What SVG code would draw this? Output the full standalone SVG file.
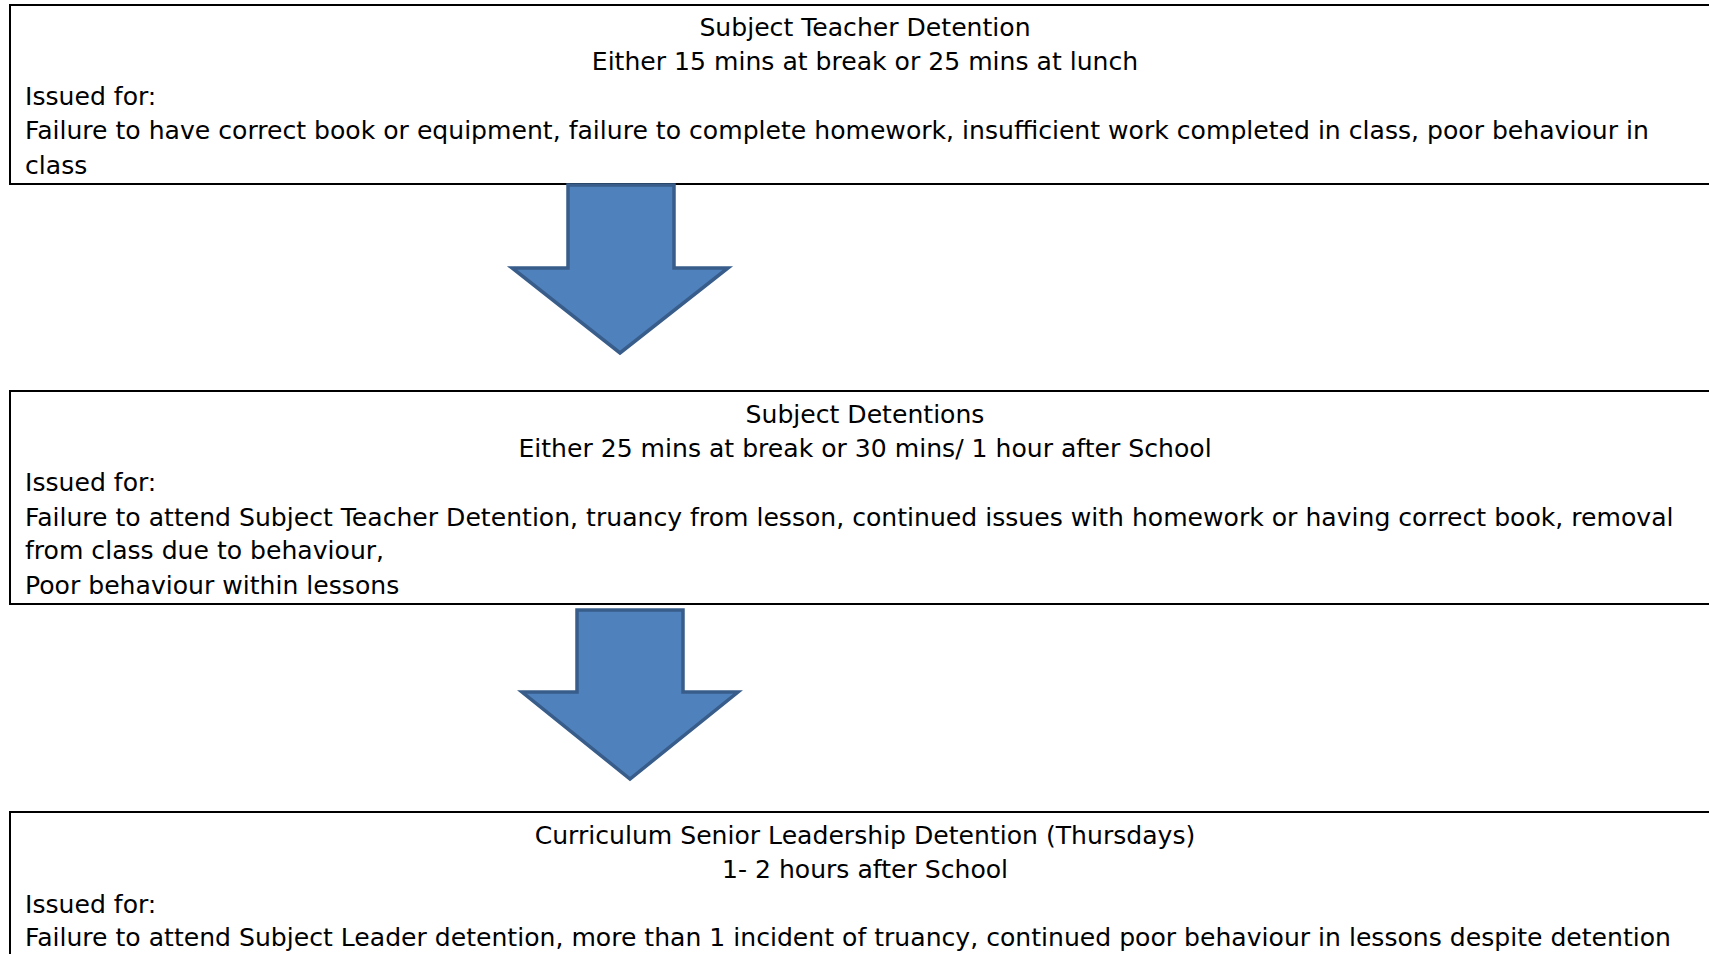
<svg xmlns="http://www.w3.org/2000/svg" width="1709" height="954" viewBox="0 0 1709 954">
<style>
.box{fill:#ffffff;stroke:#000000;stroke-width:2}
.t{font-family:"DejaVu Sans",sans-serif;font-size:25.1px;fill:#000000}
.c{text-anchor:middle}
.arrow{fill:#4F81BD;stroke:#385D8A;stroke-width:3.5;stroke-linejoin:miter}
</style>
<rect x="0" y="0" width="1709" height="954" fill="#ffffff"/>
<g id="node1">
<rect class="box" x="10" y="5" width="1720" height="179"/>
<text class="t c" x="865" y="36">Subject Teacher Detention</text>
<text class="t c" x="865" y="70">Either 15 mins at break or 25 mins at lunch</text>
<text class="t" x="25" y="105">Issued for:</text>
<text class="t" x="25" y="139">Failure to have correct book or equipment, failure to complete homework, insufficient work completed in class, poor behaviour in</text>
<text class="t" x="25" y="174">class</text>
</g>
<g id="node2">
<rect class="box" x="10" y="391" width="1720" height="213"/>
<text class="t c" x="865" y="423">Subject Detentions</text>
<text class="t c" x="865" y="457">Either 25 mins at break or 30 mins/ 1 hour after School</text>
<text class="t" x="25" y="491">Issued for:</text>
<text class="t" x="25" y="526">Failure to attend Subject Teacher Detention, truancy from lesson, continued issues with homework or having correct book, removal</text>
<text class="t" x="25" y="559">from class due to behaviour,</text>
<text class="t" x="25" y="594">Poor behaviour within lessons</text>
</g>
<g id="node3">
<rect class="box" x="10" y="812" width="1720" height="160"/>
<text class="t c" x="865" y="844">Curriculum Senior Leadership Detention (Thursdays)</text>
<text class="t c" x="865" y="878">1- 2 hours after School</text>
<text class="t" x="25" y="913">Issued for:</text>
<text class="t" x="25" y="946">Failure to attend Subject Leader detention, more than 1 incident of truancy, continued poor behaviour in lessons despite detention</text>
</g>
<g id="connectors">
<polygon class="arrow" points="568,185 674,185 674,268 728,268 620,353 512,268 568,268"/>
<polygon class="arrow" points="577,610 683,610 683,692 738,692 630,779 522,692 577,692"/>
</g>
</svg>
